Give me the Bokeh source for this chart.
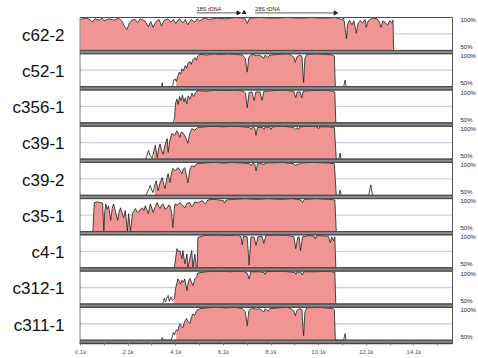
import numpy as np
from bokeh.plotting import figure
from bokeh.models import Range1d, FixedTicker, LinearAxis
from bokeh.embed import file_html
from bokeh.resources import INLINE
from bokeh.core.properties import value

# ---------------- data (position in kb, identity in %) ----------------
names = ["c62-2", "c52-1", "c356-1", "c39-1", "c39-2", "c35-1", "c4-1", "c312-1", "c311-1"]

c62_2 = [(0.1,97),(0.3,99),(0.5,97),(0.6,93),(0.7,98),(0.9,96),(1.0,99),(1.1,95),(1.3,98),(1.5,96),(1.7,99),
         (1.85,94),(1.95,86),(2.05,82),(2.15,91),(2.25,96),(2.4,97),(2.5,92),(2.6,98),(2.8,95),(2.95,86),(3.05,94),
         (3.15,85),(3.25,93),(3.4,97),(3.5,87),(3.6,95),(3.75,98),(3.9,93),(4.0,97),(4.1,91),(4.25,98),(4.4,92),
         (4.5,97),(4.6,89),(4.75,97),(4.9,93),(5.0,98),(5.1,95),(5.3,99),(5.5,97),(5.8,99),(6.2,98),(6.6,100),
         (7.0,99),(7.1,91),(7.2,99),(7.6,100),(8.2,99),(8.8,100),(9.3,99),(9.8,100),(10.3,99),(10.8,100),
         (11.05,97),(11.15,99),(11.22,82),(11.27,68),(11.32,90),(11.4,96),(11.5,89),(11.58,95),(11.68,76),
         (11.75,91),(11.85,95),(11.95,92),(12.05,97),(12.1,85),(12.18,95),(12.35,99),(12.55,98),(12.65,93),
         (12.72,85),(12.8,95),(12.9,92),(13.0,88),(13.08,95),(13.18,92),(13.22,96),(13.25,50)]

c52_1 = [(3.5,50),(3.53,56),(3.56,50),(3.9,50),(3.98,53),(4.02,60),(4.07,62),(4.12,58),(4.19,66),(4.25,72),
         (4.3,69),(4.36,77),(4.42,74),(4.5,82),(4.56,78),(4.62,86),(4.69,88),(4.75,84),(4.82,91),(4.9,94),
         (4.96,90),(5.02,96),(5.11,99),(5.4,98),(5.7,100),(6.0,99),(6.3,100),(6.6,99),(6.9,98),(7.02,93),
         (7.1,72),(7.17,95),(7.3,99),(7.5,97),(7.62,98),(7.8,93),(7.86,98),(7.97,94),(8.05,98),(8.4,99),
         (8.8,100),(8.97,97),(9.05,95),(9.12,87),(9.18,95),(9.3,98),(9.4,96),(9.44,70),(9.47,56),(9.52,92),
         (9.6,99),(10.0,100),(10.4,99),(10.7,98),(10.76,96),(10.8,50),(11.15,50),(11.21,60),(11.25,50)]

c356_1 = [(4.0,50),(4.05,58),(4.09,80),(4.15,86),(4.2,78),(4.26,90),(4.32,84),(4.38,92),(4.45,82),(4.5,88),
          (4.56,79),(4.62,91),(4.7,86),(4.78,95),(4.85,90),(4.95,97),(5.05,99),(5.4,98),(5.8,100),(6.2,99),
          (6.6,100),(6.95,98),(7.03,95),(7.1,73),(7.18,96),(7.3,97),(7.39,84),(7.47,97),(7.64,97),(7.72,84),
          (7.8,98),(8.2,99),(8.6,100),(9.05,98),(9.14,88),(9.2,97),(9.32,97),(9.39,88),(9.45,98),(9.8,99),
          (10.3,100),(10.7,98),(10.78,96),(10.82,50)]

c39_1 = [(2.85,50),(2.95,63),(3.03,55),(3.11,51),(3.18,62),(3.24,71),(3.29,60),(3.32,52),(3.38,66),(3.44,73),
         (3.5,64),(3.57,57),(3.65,72),(3.74,81),(3.78,60),(3.85,78),(3.94,89),(4.05,86),(4.15,93),(4.22,88),
         (4.27,83),(4.33,91),(4.4,90),(4.5,84),(4.61,74),(4.68,88),(4.77,96),(4.9,94),(5.02,98),(5.3,99),
         (5.7,100),(6.1,99),(6.5,100),(6.9,99),(7.2,98),(7.27,95),(7.33,99),(7.42,97),(7.47,86),(7.53,98),
         (7.75,98),(7.8,95),(7.86,99),(8.05,98),(8.1,95),(8.16,99),(8.6,100),(9.05,98),(9.14,95),(9.2,98),
         (9.26,95),(9.32,99),(9.8,100),(10.03,99),(10.09,96),(10.15,99),(10.5,99),(10.76,98),(10.84,50),
         (10.95,50),(11.0,59),(11.04,50)]

c39_2 = [(2.85,50),(2.9,54),(2.97,60),(3.03,65),(3.09,58),(3.15,54),(3.22,66),(3.28,72),(3.36,57),(3.45,70),
         (3.53,77),(3.6,66),(3.65,60),(3.72,75),(3.78,83),(3.86,69),(3.92,84),(3.98,91),(4.08,87),(4.19,92),
         (4.28,88),(4.36,83),(4.42,90),(4.48,92),(4.55,80),(4.61,69),(4.7,90),(4.77,95),(4.88,93),(4.98,98),
         (5.3,99),(5.7,100),(6.1,99),(6.5,100),(6.9,99),(7.2,98),(7.27,95),(7.33,99),(7.42,97),(7.47,87),
         (7.53,98),(7.75,98),(7.8,96),(7.86,99),(8.6,100),(9.05,98),(9.14,95),(9.2,98),(9.26,96),(9.32,99),
         (9.8,100),(10.5,99),(10.76,98),(10.84,50),(10.95,50),(11.0,58),(11.04,50),(12.2,50),(12.29,66),
         (12.36,50)]

c35_1 = [(0.62,50),(0.66,80),(0.68,94),(0.8,95),(0.95,94),(1.03,93),(1.08,50),(1.12,80),(1.16,92),(1.22,84),
         (1.28,89),(1.37,67),(1.43,85),(1.49,92),(1.57,80),(1.66,67),(1.72,80),(1.78,86),(1.85,78),(1.91,71),
         (1.98,82),(2.07,51),(2.12,77),(2.2,50),(2.28,77),(2.35,82),(2.41,85),(2.47,80),(2.53,79),(2.62,84),
         (2.7,86),(2.76,82),(2.82,89),(2.88,84),(2.95,77),(3.03,92),(3.1,85),(3.15,79),(3.24,88),(3.32,94),
         (3.38,88),(3.44,85),(3.5,90),(3.57,92),(3.65,84),(3.74,86),(3.8,90),(3.86,89),(3.92,80),(3.98,56),
         (4.04,85),(4.07,92),(4.17,90),(4.27,94),(4.38,90),(4.48,86),(4.58,93),(4.69,94),(4.76,88),(4.82,89),
         (4.9,95),(4.98,94),(5.11,95),(5.2,97),(5.35,92),(5.45,98),(5.7,99),(6.1,97),(6.15,93),(6.22,98),
         (6.6,99),(7.0,100),(7.5,99),(8.0,100),(8.5,99),(9.0,100),(9.35,98),(9.42,94),(9.5,99),(10.0,100),
         (10.5,99),(10.78,98),(10.84,50)]

c4_1 = [(4.04,50),(4.1,66),(4.15,79),(4.22,74),(4.27,76),(4.36,64),(4.4,76),(4.48,56),(4.57,71),(4.61,50),
        (4.68,62),(4.77,76),(4.82,50),(4.9,71),(4.97,50),(5.0,50),(5.03,96),(5.3,99),(5.8,100),(6.3,99),
        (6.7,100),(6.84,97),(6.89,85),(6.95,98),(7.1,97),(7.18,54),(7.26,97),(7.4,96),(7.47,84),(7.55,97),
        (7.72,98),(7.8,87),(7.88,99),(8.3,100),(8.8,99),(9.06,97),(9.14,79),(9.22,96),(9.28,97),(9.34,76),
        (9.42,97),(9.7,99),(9.9,98),(9.96,94),(10.02,99),(10.5,98),(10.59,88),(10.65,97),(10.72,91),
        (10.78,97),(10.82,50)]

c312_1 = [(3.52,50),(3.57,52),(3.62,59),(3.67,53),(3.72,58),(3.78,63),(3.83,54),(3.9,61),(3.96,55),(4.04,58),
          (4.1,75),(4.15,82),(4.19,88),(4.26,84),(4.3,80),(4.36,86),(4.42,83),(4.48,88),(4.57,70),(4.63,84),
          (4.69,89),(4.75,84),(4.82,78),(4.9,88),(4.98,91),(5.02,97),(5.4,99),(5.9,100),(6.4,99),(6.9,100),
          (7.1,97),(7.18,88),(7.25,99),(7.6,99),(7.8,98),(7.85,95),(7.9,99),(8.5,100),(9.1,98),(9.15,95),
          (9.2,99),(9.35,98),(9.42,94),(9.48,99),(10.0,99),(10.5,100),(10.78,98),(10.82,50)]

c311_1 = [(3.5,50),(3.53,54),(3.57,50),(3.9,50),(3.96,56),(4.0,62),(4.05,58),(4.12,66),(4.18,64),(4.27,75),
          (4.33,71),(4.4,69),(4.47,78),(4.55,83),(4.62,78),(4.69,75),(4.75,84),(4.82,90),(4.9,88),(4.98,95),
          (5.11,98),(5.4,99),(5.8,100),(6.2,99),(6.6,100),(6.9,98),(7.02,93),(7.1,72),(7.17,95),(7.3,99),
          (7.5,97),(7.62,98),(7.8,93),(7.86,98),(7.97,94),(8.05,98),(8.4,99),(8.8,100),(8.97,97),(9.05,95),
          (9.12,87),(9.18,95),(9.3,98),(9.4,96),(9.44,70),(9.47,57),(9.52,92),(9.6,99),(10.0,100),(10.4,99),
          (10.7,98),(10.76,96),(10.8,50),(11.15,50),(11.21,60),(11.25,50)]

curves = [c62_2, c52_1, c356_1, c39_1, c39_2, c35_1, c4_1, c312_1, c311_1]
fill_start = [0.1, 4.12, 4.05, 3.18, 3.22, 0.62, 4.04, 4.04, 4.12]   # kb, shaded conserved region
fill_end = [13.25, 10.8, 10.82, 10.84, 10.84, 10.84, 10.82, 10.82, 10.8]

gene_names = ["18S rDNA", "28S rDNA"]
gene_start = [4.98, 7.43]
gene_end = [6.72, 10.80]
small_feature = [6.97]

tick_kb = [0.1, 2.1, 4.1, 6.1, 8.1, 10.1, 12.1, 14.1]
tick_labels = ["0.1k", "2.1k", "4.1k", "6.1k", "8.1k", "10.1k", "12.1k", "14.1k"]
minor_kb = [1.1, 3.1, 5.1, 7.1, 9.1, 11.1, 13.1, 15.1]

# ---------------- layout constants ----------------
PITCH = 55          # vertical units per track (50 % range + separator)
X0, X1 = 58, 15720  # bp
PINK = "#f09494"

p = figure(width=478, height=358, output_backend="svg", toolbar_location=None,
           x_range=Range1d(X0, X1), y_range=Range1d(-395, 125.8),
           min_border_left=79, min_border_right=22, min_border_top=0, min_border_bottom=15)
p.outline_line_color = None
p.grid.visible = False
p.background_fill_color = "white"
p.border_fill_color = "white"

n = len(names)
offs = [PITCH * i for i in range(n)]
bases = [50 - o for o in offs]
tops = [100 - o for o in offs]

# panel backgrounds
p.quad(left=75, right=X1, bottom=bases, top=tops, fill_color="white", line_color=None)
# 75% guide lines
p.segment(x0=[75] * n, x1=[X1] * n, y0=[75 - o for o in offs], y1=[75 - o for o in offs],
          line_color="#cfcfe3", line_width=1.3)

for i, pts in enumerate(curves):
    xs = np.array([q[0] for q in pts]) * 1000
    ys = np.array([q[1] for q in pts], dtype=float) - offs[i]
    m = (xs >= fill_start[i] * 1000 - 1) & (xs <= fill_end[i] * 1000 + 1)
    p.varea(x=xs[m], y1=bases[i], y2=ys[m], fill_color=PINK)
    p.line(xs, ys, line_color="#1e1e1e", line_width=0.8)

# separator bars
p.quad(left=75, right=X1, bottom=[45 - o for o in offs], top=bases,
       fill_color="#8a8a8a", line_color="#4a4a4a", line_width=1)
# panel outlines
p.quad(left=75, right=X1, bottom=bases, top=tops, fill_color=None, line_color="#4a4a4a", line_width=1)

# gene annotation on top
gs = [g * 1000 for g in gene_start]
ge = [g * 1000 for g in gene_end]
p.segment(x0=gs, x1=ge, y0=[107, 107], y1=[107, 107], line_color="#333", line_width=0.8)
p.scatter(x=ge, y=[107, 107], marker="triangle", angle=-np.pi / 2, size=4,
          fill_color="#222", line_color="#222")
p.scatter(x=[s * 1000 for s in small_feature], y=[107.5], marker="triangle", size=3.5,
          fill_color="#222", line_color="#222")
p.text(x=gs, y=[113.5, 113.5], text=gene_names, text_font=value("Liberation Sans"),
       text_font_size="5.5px", text_baseline="middle", text_align="left", text_color="#222")

# left axis: track names
ya = p.yaxis[0]
name_ticks = [73 - o for o in offs]
ya.ticker = FixedTicker(ticks=name_ticks)
ya.major_label_overrides = {t: nm for t, nm in zip(name_ticks, names)}
ya.major_label_text_font = "Liberation Sans"
ya.major_label_text_font_size = "17px"
ya.major_label_text_color = "#111"
ya.axis_line_color = None
ya.major_tick_line_color = None
ya.minor_tick_line_color = None
ya.major_label_standoff = 9

# bottom axis
xa = p.xaxis[0]
xa.ticker = FixedTicker(ticks=[t * 1000 for t in tick_kb], minor_ticks=[t * 1000 for t in minor_kb])
xa.major_label_overrides = {int(round(t * 1000)): l for t, l in zip(tick_kb, tick_labels)}
xa.major_label_text_font = "Liberation Sans"
xa.major_label_text_font_size = "6px"
xa.major_label_text_color = "#555"
xa.axis_line_color = "#444"
xa.axis_line_width = 1.5
xa.major_tick_in = 0
xa.major_tick_out = 2
xa.minor_tick_in = 0
xa.minor_tick_out = 2
xa.major_tick_line_color = "#888"
xa.minor_tick_line_color = "#888"
xa.major_label_standoff = 3

# right axis: percentage scale of each track
pct_ticks = [96 - o for o in offs] + [55 - o for o in offs]
pct_text = ["100%"] * n + ["50%"] * n
ra = LinearAxis(ticker=FixedTicker(ticks=pct_ticks), axis_line_color="#555", axis_line_width=1,
                bounds=(-395, 100), major_tick_line_color=None, minor_tick_line_color=None,
                major_label_standoff=2, major_label_text_font="Liberation Sans",
                major_label_text_font_size="6px", major_label_text_color="#222")
ra.major_label_overrides = {t: s for t, s in zip(pct_ticks, pct_text)}
p.add_layout(ra, "right")

open("out.html", "w").write(file_html(p, INLINE))
